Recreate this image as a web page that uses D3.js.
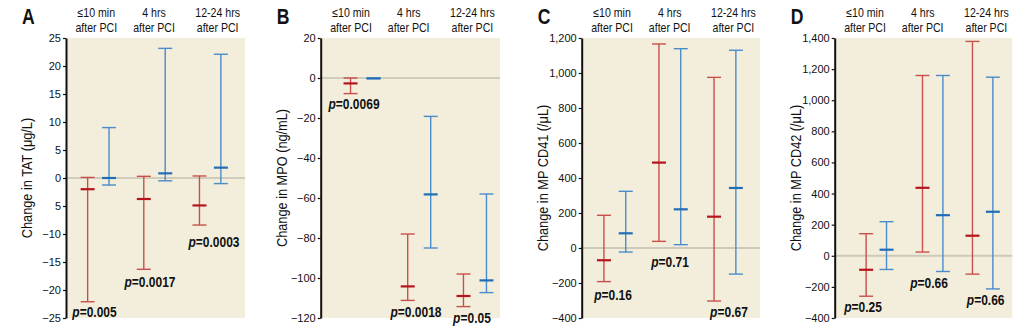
<!DOCTYPE html>
<html><head><meta charset="utf-8">
<script src="https://cdn.jsdelivr.net/npm/d3@7"></script>
<style>
body{margin:0;background:#fff}
svg{display:block}
text{font-family:'Liberation Sans',Arial,Helvetica,sans-serif;fill:#111}
</style>
</head><body>
<svg id="c" width="1033" height="331"></svg>
<script>
// ---------- DATA ----------
const categoriesLine1 = ["≤10 min", "4 hrs", "12-24 hrs"];
const categoriesLine2 = ["after PCI", "after PCI", "after PCI"];

// Panel A: TAT (μg/L)
const tatRedMedian  = [-2.0, -3.75, -4.9];
const tatRedLow     = [-22.1, -16.3, -8.4];
const tatRedHigh    = [0.1, 0.3, 0.36];
const tatBlueMedian = [0.0, 0.83, 1.85];
const tatBlueLow    = [-1.25, -0.5, -1.0];
const tatBlueHigh   = [9.0, 23.15, 22.1];
const tatPValues    = ["0.005", "0.0017", "0.0003"];
const tatTicks      = [25, 20, 15, 10, 5, 0, -5, -10, -15, -20, -25];
const tatTickLabels = ["25", "20", "15", "10", "5", "0", "5", "\u221210", "\u221215", "\u221220", "\u221225"];

// Panel B: MPO (ng/mL)
const mpoRedMedian  = [-2.7, -104.2, -109];
const mpoRedLow     = [-7.8, -111.2, -114.3];
const mpoRedHigh    = [0, -78, -98];
const mpoBlueMedian = [-0.2, -58.2, -101.2];
const mpoBlueLow    = [-0.2, -85, -107.3];
const mpoBlueHigh   = [-0.2, -19.2, -58];
const mpoPValues    = ["0.0069", "0.0018", "0.05"];
const mpoTicks      = [20, 0, -20, -40, -60, -80, -100, -120];
const mpoTickLabels = ["20", "0", "\u221220", "\u221240", "\u221260", "\u221280", "\u2212100", "\u2212120"];

// Panel C: MP CD41 (/μL)
const cd41RedMedian  = [-70, 488, 179];
const cd41RedLow     = [-192, 38, -303];
const cd41RedHigh    = [187, 1166, 975];
const cd41BlueMedian = [84, 221, 343];
const cd41BlueLow    = [-23, 19, -149];
const cd41BlueHigh   = [324, 1139, 1130];
const cd41PValues    = ["0.16", "0.71", "0.67"];
const cd41Ticks      = [1200, 1000, 800, 600, 400, 200, 0, -200, -400];
const cd41TickLabels = ["1,200", "1,000", "800", "600", "400", "200", "0", "\u2212200", "\u2212400"];

// Panel D: MP CD42 (/μL)
const cd42RedMedian  = [-90, 437, 129];
const cd42RedLow     = [-260, 24, -118];
const cd42RedHigh    = [142, 1159, 1378];
const cd42BlueMedian = [39, 261, 283];
const cd42BlueLow    = [-88, -101, -213];
const cd42BlueHigh   = [219, 1159, 1148];
const cd42PValues    = ["0.25", "0.66", "0.66"];
const cd42Ticks      = [1400, 1200, 1000, 800, 600, 400, 200, 0, -200, -400];
const cd42TickLabels = ["1,400", "1,200", "1,000", "800", "600", "400", "200", "0", "\u2212200", "\u2212400"];

// ---------- PANELS (data references + layout) ----------
const panels = [
  { letter: "A", yLabel: "Change in TAT (\u03bcg/L)", domain: [-25, 25],
    ticks: tatTicks, tickLabels: tatTickLabels,
    red: [tatRedLow, tatRedMedian, tatRedHigh], blue: [tatBlueLow, tatBlueMedian, tatBlueHigh],
    p: tatPValues, pY: [-24.9, -19.5, -12.3],
    layout: { axisX: 66, right: 245, shift: [2.0, -2.5, -7.5], half: 10.7, pDx: [-1.8, -7, -3.7], zeroW: 1, zeroC: "#aeaa9c" } },
  { letter: "B", yLabel: "Change in MPO (ng/mL)", domain: [-120, 20],
    ticks: mpoTicks, tickLabels: mpoTickLabels,
    red: [mpoRedLow, mpoRedMedian, mpoRedHigh], blue: [mpoBlueLow, mpoBlueMedian, mpoBlueHigh],
    p: mpoPValues, pY: [-15.5, -119.7, -122.7],
    layout: { axisX: 320.7, right: 500, shift: [11.0, 7.5, 2.6], half: 11.5, pDx: [3, 4.3, -0.4], zeroW: 1, zeroC: "#aeaa9c" } },
  { letter: "C", yLabel: "Change in MP CD41 (/\u03bcL)", domain: [-400, 1200],
    ticks: cd41Ticks, tickLabels: cd41TickLabels,
    red: [cd41RedLow, cd41RedMedian, cd41RedHigh], blue: [cd41BlueLow, cd41BlueMedian, cd41BlueHigh],
    p: cd41PValues, pY: [-299, -108.6, -394],
    layout: { axisX: 581.7, right: 760, shift: [2.8, -2.85, -8.4], half: 10.9, pDx: [1, -2.7, -4.4], zeroW: 2, zeroC: "#cdc9ba" } },
  { letter: "D", yLabel: "Change in MP CD42 (/\u03bcL)", domain: [-400, 1400],
    ticks: cd42Ticks, tickLabels: cd42TickLabels,
    red: [cd42RedLow, cd42RedMedian, cd42RedHigh], blue: [cd42BlueLow, cd42BlueMedian, cd42BlueHigh],
    p: cd42PValues, pY: [-363, -208, -314],
    layout: { axisX: 834.7, right: 1012.3, shift: [11.3, 7.0, -3.7], half: 10.2, pDx: [-2, 3.3, -0.7], zeroW: 2, zeroC: "#cdc9ba" } }
];

const TOP = 38, BOTTOM = 318, CAP = 7;
const headerDx = [0, -3, 0];
const NARROW = 0.84;   // horizontal condensing of header text
const colors = {
  red:  { line: "#c8504a", median: "#b5141d" },
  blue: { line: "#4a8cc9", median: "#1f6db5" }
};

const svg = d3.select("#c");

panels.forEach(P => {
  const L = P.layout;
  const g = svg.append("g");
  const y = d3.scaleLinear().domain(P.domain).range([BOTTOM, TOP]);
  const x = d3.scaleBand().domain(d3.range(3)).range([L.axisX, L.axisX + 182]).padding(0);
  const cx = i => x(i) + x.bandwidth() / 2;

  // plot background
  g.append("rect").attr("x", L.axisX).attr("y", TOP)
    .attr("width", L.right - L.axisX).attr("height", BOTTOM - TOP)
    .attr("fill", "#f3eedc");

  // zero line
  g.append("line").attr("x1", L.axisX).attr("x2", L.right)
    .attr("y1", y(0)).attr("y2", y(0))
    .attr("stroke", L.zeroC).attr("stroke-width", L.zeroW);

  // y axis
  const ax = g.append("g").attr("transform", `translate(${L.axisX},0)`)
    .call(d3.axisLeft(y).tickValues(P.ticks)
      .tickFormat((d, i) => P.tickLabels[i]).tickSize(3).tickSizeOuter(0).tickPadding(2));
  ax.select(".domain").attr("stroke", "#111").attr("stroke-width", 2);
  ax.selectAll(".tick line").attr("stroke", "#111").attr("stroke-width", 1.2);
  ax.selectAll(".tick text").attr("font-size", 11).attr("fill", "#111")
    .style("font-family", "'Liberation Sans',Arial,sans-serif");

  // error bars
  [["red", -1], ["blue", 1]].forEach(([series, side]) => {
    const [low, med, high] = P[series];
    const col = colors[series];
    const bars = g.append("g").selectAll("g").data(d3.range(3)).join("g")
      .attr("transform", i => `translate(${cx(i) + L.shift[i] + side * L.half},0)`);
    bars.append("line").attr("x1", 0).attr("x2", 0)
      .attr("y1", i => y(high[i])).attr("y2", i => y(low[i]))
      .attr("stroke", col.line).attr("stroke-width", 1.4);
    bars.append("line").attr("x1", -CAP).attr("x2", CAP)
      .attr("y1", i => y(high[i])).attr("y2", i => y(high[i]))
      .attr("stroke", col.line).attr("stroke-width", 1.4);
    bars.append("line").attr("x1", -CAP).attr("x2", CAP)
      .attr("y1", i => y(low[i])).attr("y2", i => y(low[i]))
      .attr("stroke", col.line).attr("stroke-width", 1.4);
    bars.append("line").attr("x1", -CAP).attr("x2", CAP)
      .attr("y1", i => y(med[i])).attr("y2", i => y(med[i]))
      .attr("stroke", col.median).attr("stroke-width", 2.2);
  });

  // category headers (two lines, condensed)
  [[categoriesLine1, 17.3], [categoriesLine2, 32.0]].forEach(([lines, yy]) => {
    g.append("g").selectAll("text").data(d3.range(3)).join("text")
      .attr("transform", i => `translate(${cx(i) + headerDx[i]},${yy}) scale(${NARROW},1)`)
      .attr("text-anchor", "middle").attr("font-size", 12.6)
      .text(i => lines[i]);
  });

  // p values
  const pt = g.append("g").selectAll("text").data(d3.range(3)).join("text")
    .attr("transform", i => `translate(${cx(i) + L.pDx[i]},${y(P.pY[i])}) scale(0.8,1)`)
    .attr("text-anchor", "middle").attr("font-size", 15).attr("font-weight", "bold");
  pt.append("tspan").attr("font-style", "italic").text("p");
  pt.append("tspan").text(i => "=" + P.p[i]);

  // y label
  g.append("text")
    .attr("transform", `translate(${L.axisX - 34},${(TOP + BOTTOM) / 2}) rotate(-90) scale(0.85,1)`)
    .attr("text-anchor", "middle").attr("font-size", 15).text(P.yLabel);

  // panel letter
  g.append("text")
    .attr("transform", `translate(${L.axisX - 44},24) scale(0.8,1)`)
    .attr("font-size", 22).attr("font-weight", "bold").text(P.letter);
});
</script>
</body></html>
